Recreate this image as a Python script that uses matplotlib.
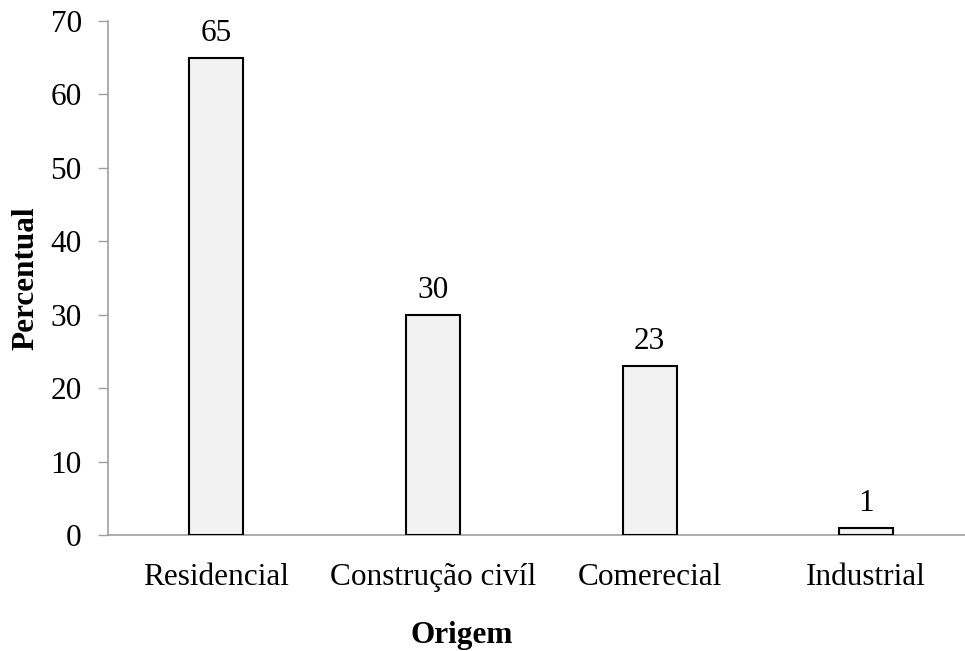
import matplotlib.pyplot as plt
import numpy as np

categorias = ["Residencial", "Construção civíl", "Comerecial", "Industrial"]
percentual = [65, 30, 23, 1]
yticks = [0, 10, 20, 30, 40, 50, 60, 70]

plt.rcParams['font.family'] = ['Liberation Serif', 'DejaVu Serif']

fig = plt.figure(figsize=(9.65, 6.51), dpi=100)
ax = fig.add_axes([0.112, 0.178, 0.888, 0.79])

x = np.arange(len(categorias))
ax.bar(x, percentual, width=0.25, color='#f2f2f2', edgecolor='black', linewidth=1.5, zorder=3)

for xi, v in zip(x, percentual):
    ax.annotate(str(v), (xi, v), xytext=(0, 7), textcoords='offset points',
                ha='center', va='bottom', fontsize=22.5)

ax.set_xlim(-0.5, 3.456)
ax.set_ylim(0, 70)
ax.set_yticks(yticks)
ax.set_xticks(x)
ax.set_xticklabels(categorias)
ax.tick_params(axis='y', labelsize=22.5, length=7, width=1, color='#a0a0a0', pad=12)
ax.tick_params(axis='x', labelsize=22.5, length=0, pad=20)

for s in ['top', 'right']:
    ax.spines[s].set_visible(False)
for s in ['left', 'bottom']:
    ax.spines[s].set_color('#a0a0a0')
    ax.spines[s].set_linewidth(1.2)

ax.set_ylabel('Percentual', fontsize=22.5, fontweight='bold')
ax.yaxis.set_label_coords(-0.079, 0.5)
ax.set_xlabel('Origem', fontsize=22.5, fontweight='bold')
ax.xaxis.set_label_coords(0.413, -0.167)

fig.savefig('out.png', dpi=100)
